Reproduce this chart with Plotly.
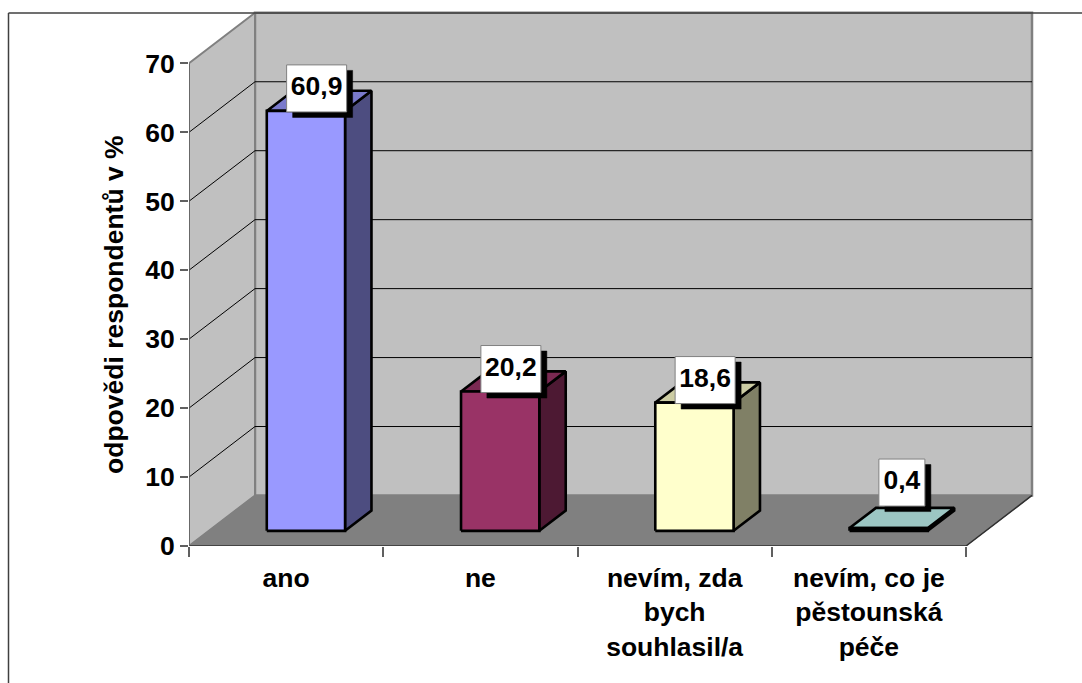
import plotly.graph_objects as go

# ---- data ----
categories = ["ano", "ne", "nevím, zda<br>bych<br>souhlasil/a", "nevím, co je<br>pěstounská<br>péče"]
values = [60.9, 20.2, 18.6, 0.4]
y_ticks = [0, 10, 20, 30, 40, 50, 60, 70]
y_title = "odpovědi respondentů v %"

# ---- styles ----
front_colors = ["#9999FF", "#993366", "#FFFFCC", "#A8D8D4"]
top_colors = ["#7A7ACC", "#7A2952", "#CCCCA3", "#9CC6C3"]
side_colors = ["#4D4D80", "#4D1933", "#808066", "#54706E"]
FONT = "Liberation Sans"
FS = 26.5

# ---- page geometry: where the axes sit, in pixels ----
W, H = 1082, 683
X0_PX, X4_PX = 189.0, 966.0
Y0_PX, Y70_PX = 545.7, 63.3
PX_X = (X4_PX - X0_PX) / 4      # pixels per category
PX_Y = (Y0_PX - Y70_PX) / 70    # pixels per value unit

# oblique depth of the 3-D box (in axis units)
DX, DY = 66 / PX_X, 50.5 / PX_Y
Z0, Z1 = 0.3, 0.7               # bar depth within the box
HALF = 0.2015                   # half bar width
BAR_LINE = 2.6


def P(x, y, z=0.0):
    return x + z * DX, y + z * DY


def poly(points, fill=None, line="black", width=1.0, closed=True):
    xs, ys = zip(*points)
    xs, ys = list(xs), list(ys)
    if closed:
        xs.append(xs[0])
        ys.append(ys[0])
    return go.Scatter(
        x=xs, y=ys, mode="lines", fill="toself" if fill else None,
        fillcolor=fill, line=dict(color=line, width=width),
        hoverinfo="skip", showlegend=False,
    )


fig = go.Figure()
N = len(categories)
TOP = y_ticks[-1]

# walls and floor
fig.add_trace(poly([P(0, 0, 1), P(N, 0, 1), P(N, TOP, 1), P(0, TOP, 1)], "#C0C0C0", "#808080", 2.5))
fig.add_trace(poly([P(0, 0, 0), P(0, 0, 1), P(0, TOP, 1), P(0, TOP, 0)], "#C0C0C0", "#808080", 2))
fig.add_trace(poly([P(0, 0, 0), P(N, 0, 0), P(N, 0, 1), P(0, 0, 1)], "#808080", "#808080", 1))

# gridlines
for v in y_ticks[1:-1]:
    fig.add_trace(poly([P(0, v, 0), P(0, v, 1), P(N, v, 1)], None, "#000000", 1, closed=False))

# floor front / right edges
fig.add_trace(poly([P(0, 0, 0), P(N, 0, 0), P(N, 0, 1)], None, "#303030", 1.5, closed=False))

# bars
for i, v in enumerate(values):
    xl, xr = i + 0.5 - HALF, i + 0.5 + HALF
    fig.add_trace(poly([P(xr, 0, Z0), P(xr, 0, Z1), P(xr, v, Z1), P(xr, v, Z0)], side_colors[i], "black", BAR_LINE))
    fig.add_trace(poly([P(xl, v, Z0), P(xr, v, Z0), P(xr, v, Z1), P(xl, v, Z1)], top_colors[i], "black", BAR_LINE))
    fig.add_trace(poly([P(xl, 0, Z0), P(xr, 0, Z0), P(xr, v, Z0), P(xl, v, Z0)], front_colors[i], "black", BAR_LINE))

# data labels: white boxes with a hard black shadow
label_x, label_y, label_text = [], [], []
for i, v in enumerate(values):
    text = f"{v:.1f}".replace(".", ",")
    w_px = 60 if len(text) == 4 else 46
    off_px = 30.5 if len(text) == 4 else 33
    h_px = 47
    fx, fy = P(i + 0.5, v, Z0)
    lift_px = 23 if v < 1 else 0
    cx = (i + 0.5) + off_px / PX_X
    cy = fy + (22.5 + lift_px) / PX_Y
    hw, hh = (w_px / 2) / PX_X, (h_px / 2) / PX_Y
    sx, sy = 6 / PX_X, 5.5 / PX_Y
    fig.add_trace(poly([(cx - hw + sx, cy - hh - sy), (cx + hw + sx, cy - hh - sy),
                        (cx + hw + sx, cy + hh - sy), (cx - hw + sx, cy + hh - sy)],
                       "#000000", "#000000", 0.5))
    fig.add_trace(poly([(cx - hw, cy - hh), (cx + hw, cy - hh),
                        (cx + hw, cy + hh), (cx - hw, cy + hh)],
                       "#FFFFFF", "#808080", 1))
    label_x.append(cx)
    label_y.append(cy)
    label_text.append(text)

fig.add_trace(go.Scatter(
    x=label_x, y=label_y, text=label_text, mode="text", textposition="middle center",
    textfont=dict(family=FONT, size=FS, color="black", weight=700),
    hoverinfo="skip", showlegend=False,
))

# front-left axis line, on the axis that carries the value ticks
fig.add_trace(go.Scatter(
    x=[0, 0], y=[y_ticks[0], TOP], mode="lines", yaxis="y2",
    line=dict(color="#606060", width=1.5), hoverinfo="skip", showlegend=False,
    cliponaxis=False,
))

x_max = (W - X0_PX) / PX_X
y_max = Y0_PX / PX_Y
tick_font = dict(family=FONT, size=FS, color="black", weight=700)


def page_x(px):
    return (px - X0_PX) / (W - X0_PX)


def page_y(py):
    return (Y0_PX - py) / Y0_PX


fig.update_layout(
    width=W, height=H, autosize=False,
    margin=dict(l=X0_PX, r=0, t=0, b=H - Y0_PX, pad=0),
    paper_bgcolor="white", plot_bgcolor="rgba(0,0,0,0)",
    xaxis=dict(
        range=[0, x_max], showgrid=False, zeroline=False, showline=False,
        tickmode="array", tickvals=[i + 0.5 for i in range(N)], ticktext=categories,
        ticks="outside", ticklen=8, tickcolor="rgba(0,0,0,0)", tickwidth=1,
        tickfont=tick_font, tickangle=0, automargin=False,
        minor=dict(tickmode="array", tickvals=list(range(N + 1)), ticks="outside",
                   ticklen=10, tickcolor="#606060", tickwidth=1.5, showgrid=False),
    ),
    yaxis=dict(range=[0, y_max], visible=False, domain=[0, 1]),
    yaxis2=dict(
        range=[0, TOP], domain=[0, 1 - Y70_PX / Y0_PX], anchor="x", showgrid=False, zeroline=False,
        showline=False, tickmode="array", tickvals=y_ticks, ticks="outside", ticklen=8,
        tickcolor="#606060", tickwidth=1.5, tickfont=tick_font, automargin=False,
        title=dict(text=y_title, font=dict(family=FONT, size=FS, color="black", weight=700), standoff=13),
    ),
    shapes=[
        dict(type="line", xref="paper", yref="paper", x0=page_x(8.5), x1=page_x(8.5),
             y0=page_y(13), y1=page_y(H), line=dict(color="#404040", width=1.5)),
        dict(type="line", xref="paper", yref="paper", x0=page_x(8.5), x1=1,
             y0=page_y(13), y1=page_y(13), line=dict(color="#404040", width=1.5)),
    ],
)

fig.write_html("out.html", config=dict(displayModeBar=False),
               post_script="document.body.style.margin='0';document.body.style.overflow='hidden';")
